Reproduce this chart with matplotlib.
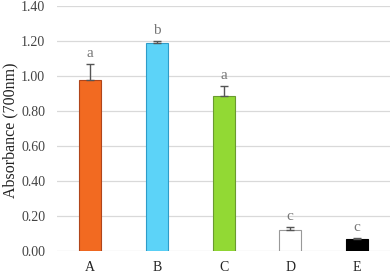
import numpy as np
import matplotlib.pyplot as plt

samples = ["A", "B", "C", "D", "E"]
absorbance = [0.976, 1.187, 0.888, 0.123, 0.071]
errors = [0.09, 0.013, 0.054, 0.015, 0.005]
letters = ["a", "b", "a", "c", "c"]

face = ["#F26A21", "#5CD3F8", "#92D934", "#FFFFFF", "#000000"]
edge = ["#B0451A", "#2E9CC8", "#6A9A30", "#999999", "#000000"]

plt.rcParams['font.family'] = ['Liberation Serif', 'DejaVu Serif']

fig = plt.figure(figsize=(3.92, 2.75), dpi=100)
ax = fig.add_axes([0.1454, 0.0855, 0.85, 0.893])

x = np.arange(len(samples))
ax.bar(x, absorbance, width=0.33, color=face, edgecolor=edge, linewidth=0.8, zorder=3)
ax.errorbar(x, absorbance, yerr=[np.zeros(len(x)), errors], fmt='none',
            ecolor="#555555", elinewidth=1.0, capsize=3, capthick=1.0, zorder=4)

for xi, v, e, t in zip(x, absorbance, errors, letters):
    ax.text(xi, v + e + 0.04, t, ha='center', va='baseline', fontsize=11, color="#777777")

ax.set_xlim(-0.5, 4.5)
ax.set_ylim(0, 1.4)
ticks = np.arange(0, 1.41, 0.2)
ax.set_yticks(ticks)
ax.set_yticklabels(["{:.2f}".format(v) for v in ticks], fontsize=10, color="#444444")
ax.set_xticks(x)
ax.set_xticklabels(samples, fontsize=10, color="#222222")
ax.tick_params(axis='x', length=0, pad=7)
ax.tick_params(axis='y', length=0, pad=8.5)
ax.yaxis.grid(True, color="#D9D9D9", linewidth=0.9, zorder=0)
ax.set_axisbelow(True)
for s in ax.spines.values():
    s.set_visible(False)
fig.text(10 / 392, 1 - 130 / 275, "Absorbance (700nm)", rotation=90, ha='center', va='center',
         fontsize=11.5, color="#222222")

fig.savefig("out.png", dpi=100)
